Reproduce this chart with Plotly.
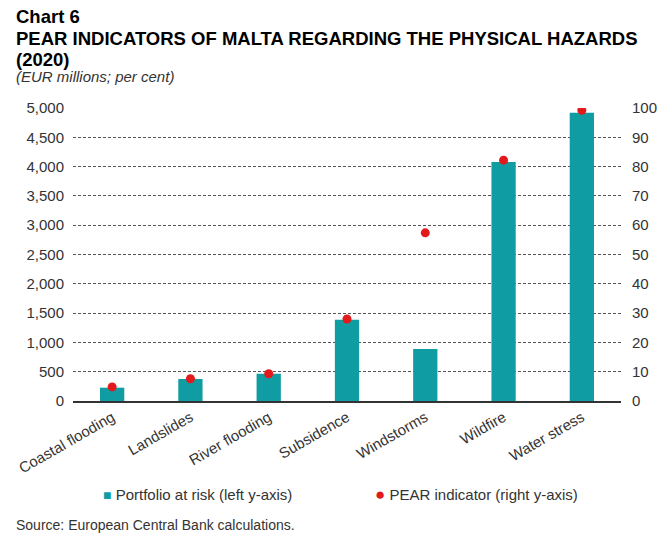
import plotly.graph_objects as go

categories = ["Coastal flooding", "Landslides", "River flooding", "Subsidence",
              "Windstorms", "Wildfire", "Water stress"]
portfolio_at_risk = [227, 375, 465, 1386, 886, 4080, 4920]
pear_indicator = [4.8, 7.6, 9.3, 28.0, 57.4, 82.2, 99.2]
left_ticks = list(range(0, 5001, 500))
right_ticks = list(range(0, 101, 10))

FONT = "Liberation Sans, Arial, sans-serif"
TEXT = "#333333"
TEAL = "#0F9DA3"
RED = "#E3191C"

W, H = 659, 537
L, R, T, B = 73, 38, 108, 136
PW, PH = W - L - R, H - T - B


def px_x(x):
    return (x - L) / PW


def px_y(y):
    return (H - B - y) / PH


fig = go.Figure()
fig.add_trace(go.Bar(
    x=categories, y=portfolio_at_risk, name="Portfolio at risk (left y-axis)",
    marker=dict(color=TEAL, line=dict(width=0)), width=0.31, yaxis="y",
))
fig.add_trace(go.Scatter(
    x=categories, y=pear_indicator, name="PEAR indicator (right y-axis)",
    mode="markers", marker=dict(color=RED, size=9), yaxis="y2",
))

fig.update_layout(
    width=W, height=H,
    margin=dict(l=L, r=R, t=T, b=B, autoexpand=False),
    paper_bgcolor="white", plot_bgcolor="white",
    font=dict(family=FONT, size=15, color=TEXT),
    showlegend=False,
    xaxis=dict(tickangle=-30, showgrid=False, showline=True, linecolor="#333333",
               linewidth=2, ticks="", automargin=False,
               tickfont=dict(size=15, color=TEXT)),
    yaxis=dict(range=[0, 5000], tickvals=left_ticks, tickformat=",",
               showgrid=True, gridcolor="#555555", griddash="3px,2px", gridwidth=1,
               zeroline=False, ticks="", automargin=False, ticklabelstandoff=8,
               tickfont=dict(size=15, color=TEXT)),
    yaxis2=dict(range=[0, 100], tickvals=right_ticks, overlaying="y", side="right",
                showgrid=False, zeroline=False, ticks="", automargin=False,
                ticklabelstandoff=10, tickfont=dict(size=15, color=TEXT)),
)

texts = [
    # text, left x, baseline y, size, colour
    ("<b>Chart 6</b>", 15, 23, 18.5, "#000000"),
    ("<b>PEAR INDICATORS OF MALTA REGARDING THE PHYSICAL HAZARDS</b>", 15, 45, 18.5, "#000000"),
    ("<b>(2020)</b>", 15, 66, 18.5, "#000000"),
    ("<i>(EUR millions; per cent)</i>", 15, 82, 15, TEXT),
    ("Source: European Central Bank calculations.", 15, 530, 14, TEXT),
    (f'<span style="color:{TEAL};font-size:14px">■</span> Portfolio at risk (left y-axis)',
     102, 500, 15, TEXT),
    (f'<span style="color:{RED};font-size:17px">●</span> PEAR indicator (right y-axis)',
     374, 500, 15, TEXT),
]
for text, x, base, size, col in texts:
    fig.add_annotation(
        text=text, xref="paper", yref="paper",
        x=px_x(x), y=px_y(base - 0.35 * size),
        xanchor="left", yanchor="middle", showarrow=False, align="left",
        borderpad=0, font=dict(family=FONT, size=size, color=col),
    )

fig.write_html(
    "out.html",
    config={"displayModeBar": False},
    post_script="document.body.style.margin='0';document.body.style.overflow='hidden';",
)
